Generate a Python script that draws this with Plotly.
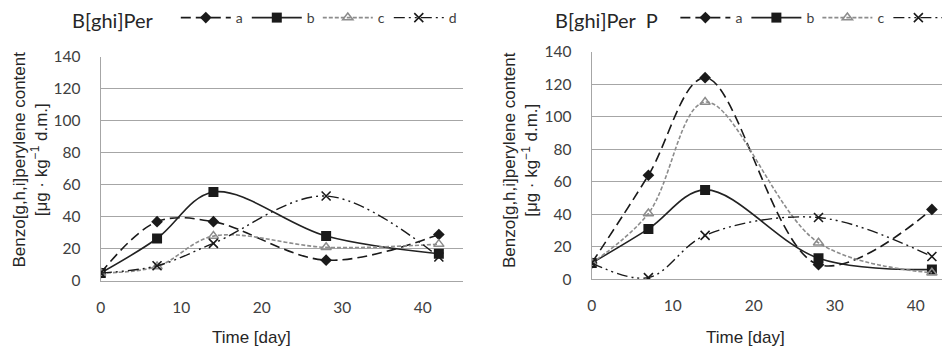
import plotly.graph_objects as go

days = [0, 7, 14, 28, 42]
series_names = ["a", "b", "c", "d"]

# Left panel: B[ghi]Per
left_a = [5, 37, 37, 13, 29]
left_b = [5, 26.5, 55.5, 28, 17]
left_c = [5, 9, 28, 21, 23]
left_d = [5, 9.5, 23.5, 53, 15]

# Right panel: B[ghi]Per P
right_a = [10, 64, 124, 9, 43]
right_b = [10, 31, 55, 13, 6]
right_c = [10, 40.5, 109, 22.5, 4]
right_d = [10, 1, 27, 38, 14]

y_ticks = [0, 20, 40, 60, 80, 100, 120, 140]
x_ticks = [0, 10, 20, 30, 40]

styles = {
    "a": dict(line=dict(color="#1a1a1a", width=1.6, dash="10px,5px"),
              marker=dict(symbol="diamond", size=9, color="#1a1a1a")),
    "b": dict(line=dict(color="#222222", width=1.6, dash="solid"),
              marker=dict(symbol="square", size=10, color="#1a1a1a")),
    "c": dict(line=dict(color="#8c8c8c", width=1.6, dash="4px,2px"),
              marker=dict(symbol="triangle-up-open", size=9, color="#8c8c8c",
                          line=dict(width=1.5, color="#8c8c8c"))),
    "d": dict(line=dict(color="#1a1a1a", width=1.4, dash="11px,4px,2px,4px,2px,4px"),
              marker=dict(symbol="x-thin-open", size=9, color="#1a1a1a",
                          line=dict(width=1.6, color="#1a1a1a"))),
}

fig = go.Figure()
left = [left_a, left_b, left_c, left_d]
right = [right_a, right_b, right_c, right_d]
for name, vals in zip(series_names, left):
    fig.add_trace(go.Scatter(x=days, y=vals, name=name, mode="lines+markers",
                             line_shape="spline", xaxis="x", yaxis="y",
                             legend="legend", **styles[name]))
for name, vals in zip(series_names, right):
    fig.add_trace(go.Scatter(x=days, y=vals, name=name, mode="lines+markers",
                             line_shape="spline", xaxis="x2", yaxis="y2",
                             legend="legend2", **styles[name]))

W, H = 950, 349
OFF = 8  # page body margin offset
tickfont = dict(family="Lato, Open Sans, sans-serif", size=15.5, color="#404040")
titlefont = dict(family="Liberation Sans, Arial, sans-serif", size=17, color="#262626")

def fx(px):
    return (px - OFF) / W

def fy(py):
    return 1 - (py - OFF) / H

def xaxis(dom, rng, anchor):
    return dict(domain=dom, range=rng, tickvals=x_ticks, showgrid=False,
                showline=True, linecolor="#a6a6a6", linewidth=1, zeroline=False,
                ticks="", tickfont=tickfont, anchor=anchor, ticklabelstandoff=12)

def yaxis(dom, anchor):
    return dict(domain=dom, range=[0, 140], tickvals=y_ticks, showgrid=True,
                gridcolor="#a6a6a6", gridwidth=1, showline=True, linecolor="#a6a6a6",
                zeroline=False, ticks="", tickfont=tickfont, anchor=anchor,
                ticklabelstandoff=16)

legend_common = dict(orientation="h", xanchor="left", yanchor="middle",
                     font=dict(family="Lato, Open Sans, sans-serif", size=14, color="#404040"),
                     bgcolor="rgba(0,0,0,0)", itemwidth=50,
                     entrywidth=6, entrywidthmode="pixels")
legend_title_font = dict(family="Lato, Open Sans, sans-serif", size=20, color="#262626")

fig.update_layout(
    width=W, height=H, margin=dict(l=0, r=0, t=0, b=0, autoexpand=False),
    paper_bgcolor="white", plot_bgcolor="white",
    xaxis=xaxis([fx(100.7), fx(463)], [0, 45], "y"),
    yaxis=yaxis([fy(281), fy(56.5)], "x"),
    xaxis2=xaxis([fx(591.7), fx(956.2)], [0, 45], "y2"),
    yaxis2=yaxis([fy(279.3), fy(51.7)], "x2"),
    legend=dict(x=fx(70), y=fy(20),
                title=dict(text="B[ghi]Per   ", side="left", font=legend_title_font),
                **legend_common),
    legend2=dict(x=fx(553), y=fy(20),
                 title=dict(text="B[ghi]Per  P  ", side="left", font=legend_title_font),
                 **legend_common),
    showlegend=True,
)

ytitle = "Benzo[g,h,i]perylene content<br>[μg · kg<sup>−1</sup> d.m.]"
for xc, yc in [(29.5, 160), (520, 160)]:
    fig.add_annotation(text=ytitle, x=fx(xc), y=fy(yc), xref="paper", yref="paper",
                       textangle=-90, showarrow=False, font=titlefont,
                       xanchor="center", yanchor="middle")
for xc in [252, 745]:
    fig.add_annotation(text="Time [day]", x=fx(xc), y=fy(337), xref="paper", yref="paper",
                       showarrow=False, font=titlefont, xanchor="center", yanchor="middle")

fig.write_html("out.html")
